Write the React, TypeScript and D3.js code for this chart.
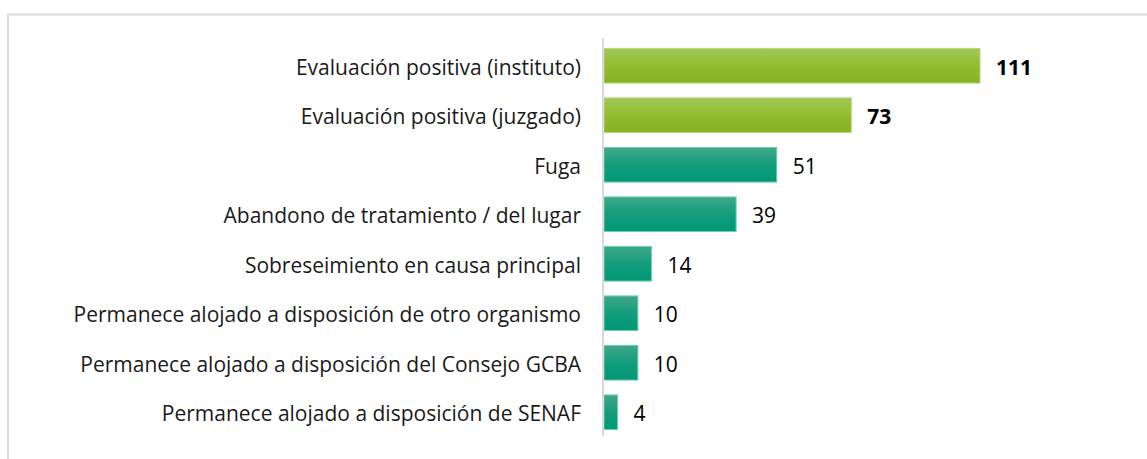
import React from "react";
import * as d3 from "d3";

const categories = [
  "Evaluación positiva (instituto)",
  "Evaluación positiva (juzgado)",
  "Fuga",
  "Abandono de tratamiento / del lugar",
  "Sobreseimiento en causa principal",
  "Permanece alojado a disposición de otro organismo",
  "Permanece alojado a disposición del Consejo GCBA",
  "Permanece alojado a disposición de SENAF",
];
const values = [111, 73, 51, 39, 14, 10, 10, 4];
const highlighted = [true, true, false, false, false, false, false, false];

const W = 1147;
const H = 459;
const font = "'Open Sans', sans-serif";

export default function App() {
  const x = d3.scaleLinear().domain([0, 111]).range([604, 980]);
  const y = d3
    .scaleBand<string>()
    .domain(categories)
    .range([41, 437])
    .paddingInner(0.3)
    .paddingOuter(0.15);

  return (
    <svg
      width={W}
      height={H}
      style={{ position: "absolute", left: 0, top: 0, background: "#fff" }}
    >
      <defs>
        <linearGradient id="gGreen" x1="0" y1="0" x2="0" y2="1">
          <stop offset="0" stopColor="#a2c85a" />
          <stop offset="0.5" stopColor="#8fbd2f" />
          <stop offset="1" stopColor="#84b223" />
        </linearGradient>
        <linearGradient id="gTeal" x1="0" y1="0" x2="0" y2="1">
          <stop offset="0" stopColor="#40a888" />
          <stop offset="0.5" stopColor="#139d7c" />
          <stop offset="1" stopColor="#009876" />
        </linearGradient>
      </defs>
      <rect x={8} y={14.5} width={W + 10} height={H + 10} fill="none" stroke="#d9d9d9" strokeWidth={2} />
      {categories.map((c, i) => {
        const by = y(c)!;
        const bh = y.bandwidth();
        const base = by + bh / 2 + 9;
        return (
          <g key={c}>
            <text
              x={581}
              y={base}
              textAnchor="end"
              fontFamily={font}
              fontSize={21}
              fill="#1a1a1a"
            >
              {c}
            </text>
            <rect
              x={x(0)}
              y={by}
              width={x(values[i]) - x(0)}
              height={bh}
              fill={highlighted[i] ? "url(#gGreen)" : "url(#gTeal)"}
              stroke={highlighted[i] ? "#b5d77a" : "#6fcfb0"}
              strokeWidth={1}
            />
            <text
              x={x(values[i]) + 16}
              y={base}
              fontFamily={font}
              fontSize={21}
              fontWeight={highlighted[i] ? 700 : 400}
              fill="#000"
            >
              {values[i]}
            </text>
          </g>
        );
      })}
      <line x1={603} x2={603} y1={38} y2={436} stroke="#d9d9d9" strokeWidth={2} />
    </svg>
  );
}
